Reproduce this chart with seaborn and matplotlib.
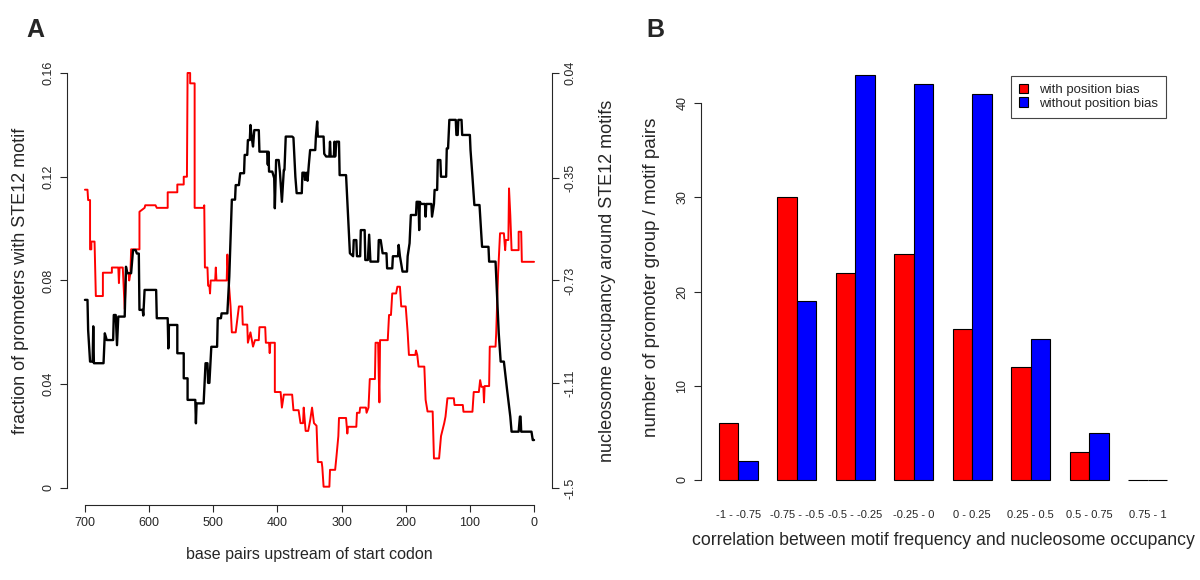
# STE12 motif position vs nucleosome occupancy (panel A) and correlation histogram (panel B)
import numpy as np
import pandas as pd
import matplotlib
matplotlib.use("Agg")
import matplotlib.pyplot as plt
import seaborn as sns

sns.set_style("ticks")
plt.rcParams['font.family'] = ['Liberation Sans', 'DejaVu Sans']

# ---- panel A data ----
red_bp = [700, 696, 695, 692, 692, 690, 690, 685, 683, 672, 672, 658, 658, 648, 647, 646, 641, 638, 636, 632,
          631, 629, 628, 615, 615, 607, 606, 590, 588, 571, 571, 556, 556, 546, 546, 541, 540, 536, 536, 529,
          529, 515, 514, 513, 509, 508, 506, 505, 504, 497, 496, 495, 479, 478, 476, 473, 471, 465, 460, 455,
          454, 447, 446, 442, 438, 435, 429, 428, 419, 418, 413, 412, 411, 404, 404, 395, 393, 390, 377, 375,
          367, 364, 360, 359, 356, 352, 349, 346, 343, 339, 337, 331, 330, 328, 319, 318, 310, 308, 305, 304,
          293, 291, 290, 277, 276, 272, 271, 262, 261, 258, 256, 248, 247, 243, 242, 241, 240, 228, 226, 223,
          221, 215, 213, 209, 207, 200, 197, 195, 185, 184, 182, 180, 171, 169, 166, 158, 156, 148, 145, 140,
          138, 135, 125, 124, 111, 110, 96, 94, 86, 84, 82, 79, 78, 77, 70, 69, 60, 59, 56, 53,
          47, 45, 44, 40, 39, 37, 35, 24, 24, 20, 19, 0]
red_val = [0.115, 0.115, 0.111, 0.111, 0.092, 0.092, 0.095, 0.095, 0.074, 0.074, 0.083, 0.083, 0.085, 0.085, 0.079, 0.085, 0.085, 0.069, 0.083, 0.083,
           0.080, 0.083, 0.092, 0.092, 0.1065, 0.108, 0.109, 0.109, 0.108, 0.108, 0.114, 0.114, 0.117, 0.117, 0.120, 0.120, 0.160, 0.160, 0.156, 0.156,
           0.108, 0.108, 0.109, 0.085, 0.085, 0.078, 0.078, 0.075, 0.080, 0.080, 0.085, 0.080, 0.080, 0.090, 0.080, 0.070, 0.060, 0.060, 0.070, 0.070,
           0.063, 0.063, 0.056, 0.060, 0.0545, 0.057, 0.057, 0.062, 0.062, 0.056, 0.056, 0.052, 0.056, 0.056, 0.037, 0.037, 0.031, 0.036, 0.036, 0.030,
           0.030, 0.025, 0.025, 0.031, 0.022, 0.022, 0.026, 0.031, 0.025, 0.024, 0.010, 0.010, 0.008, 0.0005, 0.0005, 0.007, 0.007, 0.012, 0.020, 0.027,
           0.027, 0.021, 0.0236, 0.0236, 0.029, 0.029, 0.031, 0.031, 0.029, 0.031, 0.042, 0.042, 0.056, 0.056, 0.043, 0.033, 0.057, 0.057, 0.0667, 0.0667,
           0.075, 0.075, 0.0776, 0.0776, 0.070, 0.070, 0.060, 0.0513, 0.0513, 0.053, 0.0513, 0.0468, 0.0468, 0.034, 0.0295, 0.0295, 0.0114, 0.0114, 0.020, 0.025,
           0.0275, 0.0346, 0.0346, 0.032, 0.032, 0.0294, 0.0294, 0.037, 0.037, 0.0416, 0.039, 0.039, 0.033, 0.0393, 0.0393, 0.0545, 0.0545, 0.0596, 0.0828, 0.0982,
           0.0982, 0.0917, 0.0956, 0.0956, 0.1155, 0.1052, 0.0917, 0.0917, 0.0988, 0.0988, 0.0872, 0.0872]

black_bp = [700, 696, 695, 692, 688, 687, 686, 671, 669, 666, 656, 655, 652, 650, 648, 638, 636, 634, 628, 625,
            621, 619, 616, 615, 610, 609, 607, 589, 588, 571, 570, 569, 556, 556, 546, 546, 540, 540, 528, 527,
            526, 515, 512, 509, 508, 506, 503, 494, 493, 488, 487, 478, 475, 471, 466, 465, 460, 458, 452, 451,
            447, 446, 443, 442, 440, 438, 436, 429, 428, 416, 415, 414, 413, 408, 405, 404, 402, 398, 396, 393,
            390, 389, 387, 377, 375, 372, 370, 362, 361, 358, 357, 355, 353, 351, 349, 341, 340, 338, 337, 328,
            327, 324, 319, 318, 317, 312, 311, 310, 308, 304, 303, 293, 287, 282, 281, 277, 276, 271, 270, 264,
            263, 259, 257, 255, 243, 242, 239, 236, 230, 229, 221, 220, 212, 211, 209, 205, 198, 197, 194, 192,
            184, 183, 180, 179, 178, 176, 170, 169, 168, 160, 159, 156, 155, 151, 150, 146, 145, 137, 136, 134,
            132, 122, 121, 119, 118, 113, 112, 100, 99, 96, 93, 85, 81, 71, 70, 60, 55, 52, 47, 42,
            37, 35, 24, 22, 21, 20, 4, 2, 0]
black_val = [-0.802, -0.802, -0.914, -1.031, -1.031, -0.90, -1.037, -1.037, -0.926, -0.951, -0.951, -0.858, -0.858, -0.97, -0.864, -0.864, -0.679, -0.703, -0.703, -0.617,
             -0.617, -0.63, -0.63, -0.839, -0.839, -0.86, -0.765, -0.765, -0.870, -0.870, -0.982, -0.895, -0.895, -1.0, -1.0, -1.093, -1.093, -1.173, -1.173, -1.26,
             -1.186, -1.186, -1.037, -1.037, -1.11, -1.11, -0.976, -0.976, -0.870, -0.870, -0.852, -0.852, -0.716, -0.43, -0.43, -0.376, -0.376, -0.332, -0.332, -0.264,
             -0.264, -0.209, -0.209, -0.153, -0.20, -0.233, -0.172, -0.172, -0.252, -0.252, -0.30, -0.252, -0.326, -0.326, -0.35, -0.462, -0.283, -0.283, -0.33, -0.438,
             -0.32, -0.32, -0.196, -0.196, -0.20, -0.345, -0.406, -0.406, -0.33, -0.33, -0.357, -0.33, -0.36, -0.30, -0.246, -0.246, -0.196, -0.14, -0.196, -0.196,
             -0.26, -0.27, -0.27, -0.215, -0.27, -0.27, -0.215, -0.27, -0.215, -0.215, -0.339, -0.339, -0.629, -0.64, -0.58, -0.58, -0.64, -0.64, -0.543, -0.543,
             -0.654, -0.654, -0.56, -0.66, -0.66, -0.58, -0.58, -0.629, -0.629, -0.685, -0.685, -0.64, -0.64, -0.598, -0.64, -0.697, -0.697, -0.64, -0.592, -0.487,
             -0.487, -0.438, -0.438, -0.543, -0.438, -0.446, -0.446, -0.493, -0.446, -0.446, -0.493, -0.446, -0.394, -0.394, -0.283, -0.283, -0.345, -0.345, -0.240, -0.240,
             -0.134, -0.134, -0.19, -0.19, -0.134, -0.134, -0.190, -0.190, -0.246, -0.345, -0.45, -0.45, -0.605, -0.605, -0.660, -0.660, -0.926, -1.031, -1.031, -1.136,
             -1.235, -1.291, -1.291, -1.235, -1.235, -1.291, -1.291, -1.322, -1.322]

left_ticks = [0, 0.04, 0.08, 0.12, 0.16]
left_labels = ["0", "0.04", "0.08", "0.12", "0.16"]
right_ticks = [-1.5, -1.11, -0.73, -0.35, 0.04]
right_labels = ["-1.5", "-1.11", "-0.73", "-0.35", "0.04"]
x_ticks = [700, 600, 500, 400, 300, 200, 100, 0]

# ---- panel B data ----
groups = ["-1 - -0.75", "-0.75 - -0.5", "-0.5 - -0.25", "-0.25 - 0",
          "0 - 0.25", "0.25 - 0.5", "0.5 - 0.75", "0.75 - 1"]
with_bias = [6, 30, 22, 24, 16, 12, 3, 0]
without_bias = [2, 19, 43, 42, 41, 15, 5, 0]

fig = plt.figure(figsize=(12, 5.8), dpi=100)

# ---------------- panel A ----------------
ax = fig.add_axes([0.0558, 0.130, 0.4042, 0.7728])
sns.lineplot(x=red_bp, y=red_val, ax=ax, color='red', lw=1.4, sort=False, estimator=None)
ax.set_xlim(728, -28)
ax.set_ylim(-0.0064, 0.1664)
ax.set_xticks(x_ticks)
ax.set_yticks(left_ticks)
ax.set_yticklabels(left_labels, rotation=90, va='center')
ax.tick_params(axis='both', labelsize=9, length=5, width=0.8, pad=4)
ax.set_xlabel("base pairs upstream of start codon", fontsize=11.5, labelpad=13)
ax.set_ylabel("fraction of promoters with STE12 motif", fontsize=13, labelpad=10)
sns.despine(ax=ax)
ax.spines['left'].set_bounds(0, 0.16)
ax.spines['bottom'].set_bounds(0, 700)

ax2 = ax.twinx()
sns.lineplot(x=black_bp, y=black_val, ax=ax2, color='black', lw=1.7, sort=False, estimator=None)
ax2.set_ylim(-1.5616, 0.1016)
ax2.set_yticks(right_ticks)
ax2.set_yticklabels(right_labels, rotation=90, va='center')
ax2.tick_params(axis='y', labelsize=9, length=5, width=0.8, pad=4)
ax2.set_ylabel("nucleosome occupancy around STE12 motifs", fontsize=13, labelpad=16)
for s in ['top', 'left', 'bottom']:
    ax2.spines[s].set_visible(False)
ax2.spines['right'].set_bounds(-1.5, 0.04)

# ---------------- panel B ----------------
df = pd.DataFrame({
    'group': groups * 2,
    'bias': ['with position bias'] * len(groups) + ['without position bias'] * len(groups),
    'count': with_bias + without_bias,
})
bx = fig.add_axes([0.584, 0.1448, 0.4037, 0.7538])
sns.barplot(data=df, x='group', y='count', hue='bias', order=groups,
            hue_order=['with position bias', 'without position bias'],
            palette=['red', 'blue'], saturation=1, width=2/3, gap=0,
            edgecolor='black', linewidth=0.8, ax=bx)
bx.set_xlim(-0.64, 7.64)
bx.set_ylim(-1.72, 44.72)
bx.set_yticks([0, 10, 20, 30, 40])
bx.set_yticklabels(["0", "10", "20", "30", "40"], rotation=90, va='center')
bx.tick_params(axis='y', labelsize=9, length=5, width=0.8, pad=4)
bx.tick_params(axis='x', labelsize=8, length=0, pad=10)
bx.set_xlabel("correlation between motif frequency and nucleosome occupancy", fontsize=12.7, labelpad=9)
bx.set_ylabel("number of promoter group / motif pairs", fontsize=13.5, labelpad=12)
sns.despine(ax=bx, bottom=True)
bx.spines['left'].set_bounds(0, 40)
h, l = bx.get_legend_handles_labels()
bx.legend(h, l, loc='upper left', bbox_to_anchor=(1011 / 1200, 1 - 76 / 580),
          bbox_transform=fig.transFigure, borderaxespad=0, fontsize=9.5, frameon=True,
          fancybox=False, edgecolor='#444444', framealpha=1, handlelength=0.7,
          handleheight=0.7, handletextpad=0.8, borderpad=0.6, labelspacing=0.1)
bx.get_legend().get_frame().set_linewidth(0.8)

fig.text(35 / 1200, 1 - 30 / 580, "A", fontsize=18, fontweight='bold', ha='center', va='center')
fig.text(655 / 1200, 1 - 30 / 580, "B", fontsize=18, fontweight='bold', ha='center', va='center')

fig.savefig("out.png", dpi=100)
